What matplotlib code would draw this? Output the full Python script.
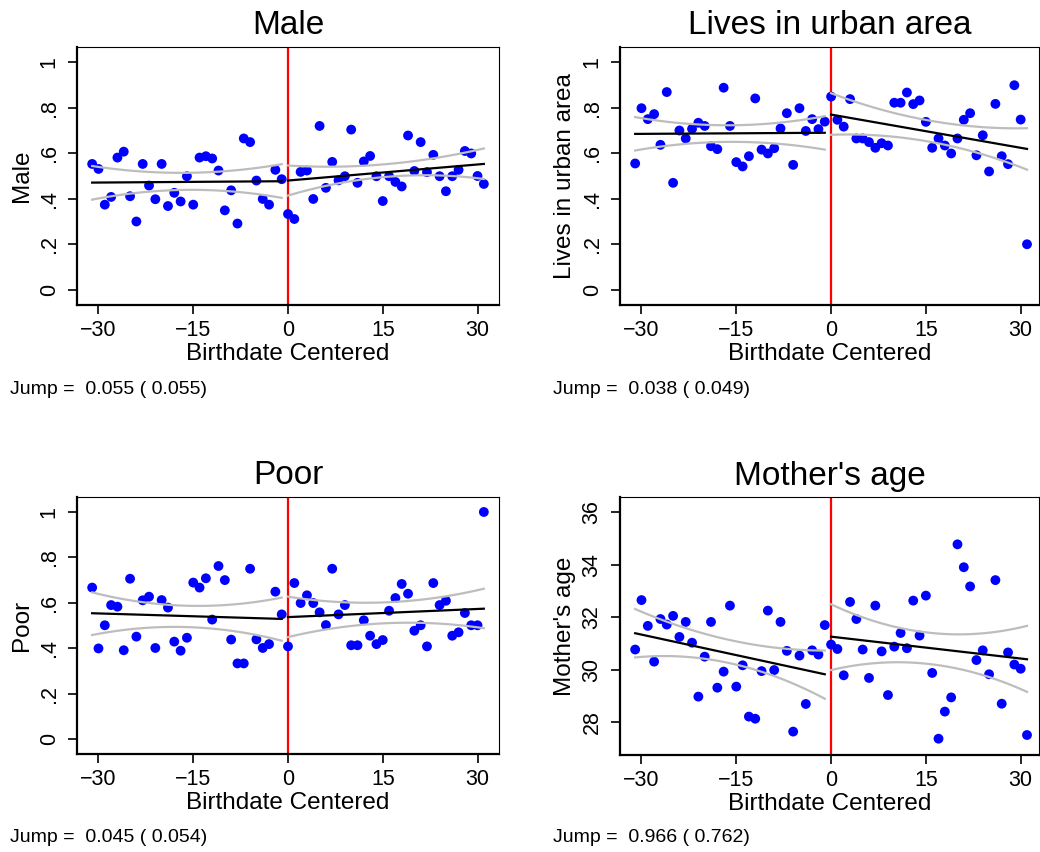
import numpy as np
import matplotlib
matplotlib.use("Agg")
import matplotlib.pyplot as plt

plt.rcParams['font.family'] = ['Liberation Sans', 'DejaVu Sans']

x = np.arange(-31, 32)

# bin means, birthdate -31..31
male = [0.554, 0.532, 0.375, 0.409, 0.582, 0.608, 0.412, 0.301, 0.554, 0.459, 0.399,
        0.554, 0.369, 0.427, 0.389, 0.500, 0.375, 0.582, 0.588, 0.578, 0.525, 0.350,
        0.438, 0.292, 0.666, 0.650, 0.481, 0.400, 0.375, 0.528, 0.487,
        0.334,
        0.312, 0.519, 0.525, 0.400, 0.721, 0.449, 0.563, 0.482, 0.500, 0.705, 0.471,
        0.565, 0.589, 0.500, 0.391, 0.500, 0.475, 0.455, 0.679, 0.523, 0.650, 0.518,
        0.594, 0.500, 0.434, 0.500, 0.528, 0.611, 0.600, 0.501, 0.466]
urban = [0.556, 0.799, 0.751, 0.773, 0.638, 0.870, 0.471, 0.701, 0.666, 0.708, 0.735,
         0.721, 0.632, 0.619, 0.889, 0.721, 0.562, 0.543, 0.588, 0.842, 0.617, 0.600,
         0.623, 0.710, 0.777, 0.550, 0.799, 0.699, 0.751, 0.707, 0.740,
         0.850,
         0.748, 0.718, 0.839, 0.666, 0.666, 0.650, 0.625, 0.645, 0.635, 0.823, 0.823,
         0.868, 0.817, 0.833, 0.739, 0.625, 0.666, 0.635, 0.600, 0.666, 0.748, 0.777,
         0.592, 0.680, 0.521, 0.818, 0.588, 0.553, 0.900, 0.749, 0.201]
poor = [0.667, 0.399, 0.501, 0.590, 0.583, 0.391, 0.706, 0.451, 0.611, 0.627, 0.401,
        0.612, 0.579, 0.429, 0.389, 0.446, 0.689, 0.667, 0.708, 0.526, 0.762, 0.700,
        0.438, 0.333, 0.333, 0.750, 0.439, 0.401, 0.418, 0.649, 0.549,
        0.408,
        0.687, 0.599, 0.633, 0.599, 0.558, 0.502, 0.750, 0.549, 0.590, 0.413, 0.413,
        0.523, 0.455, 0.418, 0.436, 0.565, 0.621, 0.683, 0.640, 0.477, 0.501, 0.408,
        0.687, 0.590, 0.609, 0.455, 0.470, 0.555, 0.501, 0.501, 1.000]
mother_age = [30.77, 32.65, 31.67, 30.31, 31.93, 31.72, 32.05, 31.25, 31.82, 31.03, 28.98,
              30.50, 31.82, 29.32, 29.93, 32.44, 29.36, 30.17, 28.22, 28.14, 29.95, 32.25,
              29.99, 31.82, 30.72, 27.65, 30.54, 28.70, 30.74, 30.58, 31.70,
              30.96,
              30.79, 29.79, 32.58, 31.93, 30.77, 29.69, 32.44, 30.70, 29.04, 30.88, 31.40,
              30.82, 32.63, 31.30, 32.82, 29.88, 27.38, 28.41, 28.95, 34.77, 33.90, 33.17,
              30.37, 30.74, 29.83, 33.41, 28.71, 30.66, 30.20, 30.04, 27.52]

# linear fit ends and CI bounds at start / middle / end of each side
x_left = [-31, -16, -1]
x_right = [0, 15.5, 31]
male_fit = {'left': ([0.472, 0.478], [0.545, 0.515, 0.553], [0.397, 0.440, 0.405]),
            'right': ([0.481, 0.554], [0.547, 0.553, 0.622], [0.415, 0.497, 0.488])}
urban_fit = {'left': ([0.686, 0.691], [0.760, 0.724, 0.764], [0.613, 0.651, 0.617]),
             'right': ([0.771, 0.620], [0.865, 0.745, 0.711], [0.682, 0.652, 0.529])}
poor_fit = {'left': ([0.554, 0.529], [0.646, 0.587, 0.623], [0.458, 0.493, 0.433]),
            'right': ([0.537, 0.574], [0.627, 0.602, 0.662], [0.449, 0.510, 0.488])}
mother_fit = {'left': ([31.39, 29.83], [32.31, 31.13, 30.73], [30.47, 30.25, 28.90]),
              'right': ([31.26, 30.40], [32.49, 31.41, 31.67], [29.99, 30.22, 29.16])}

titles = ['Male', 'Lives in urban area', 'Poor', "Mother's age"]
jumps = ['Jump =  0.055 ( 0.055)', 'Jump =  0.038 ( 0.049)',
         'Jump =  0.045 ( 0.054)', 'Jump =  0.966 ( 0.762)']
x_ticks = [-30, -15, 0, 15, 30]
x_labels = ['\u221230', '\u221215', '0', '15', '30']
share_ticks = [0, 0.2, 0.4, 0.6, 0.8, 1]
share_labels = ['0', '.2', '.4', '.6', '.8', '1']
age_ticks = [28, 30, 32, 34, 36]

W, H = 1040, 852
fig = plt.figure(figsize=(W / 100, H / 100), dpi=100)


def panel(rect, y, fit, title, jump, yticks, ylabels, ylim, xmax, jump_pos):
    l, t, r, b = rect
    ax = fig.add_axes([l / W, 1 - b / H, (r - l) / W, (b - t) / H])
    ax.axvline(0, color='red', lw=1.6, zorder=1)
    ax.scatter(x, y, s=50, color='#0000ff', edgecolors='none', zorder=2)
    for side, xs in (('left', x_left), ('right', x_right)):
        ends, up, lo = fit[side]
        xx = np.linspace(xs[0], xs[-1], 100)
        ax.plot(xx, np.polyval(np.polyfit(xs, up, 2), xx), color='#bdbdbd', lw=1.6, zorder=3)
        ax.plot(xx, np.polyval(np.polyfit(xs, lo, 2), xx), color='#bdbdbd', lw=1.6, zorder=3)
        ax.plot([xs[0], xs[-1]], ends, color='black', lw=1.6, zorder=4)
    ax.set_xlim(-33.4, xmax)
    ax.set_ylim(*ylim)
    ax.set_xticks(x_ticks)
    ax.set_xticklabels(x_labels)
    ax.set_yticks(yticks)
    ax.set_yticklabels(ylabels, rotation=90, va='center')
    ax.tick_params(labelsize=15.5, length=6.5, width=1.2)
    ax.tick_params(axis='x', pad=4)
    ax.tick_params(axis='y', pad=6)
    for s in ('left', 'bottom'):
        ax.spines[s].set_linewidth(1.6)
    for s in ('top', 'right'):
        ax.spines[s].set_linewidth(0.8)
    ax.set_title(title, fontsize=24, pad=9)
    ax.set_xlabel('Birthdate Centered', fontsize=17.5, labelpad=2)
    ax.set_ylabel(title, fontsize=17.5, labelpad=4)
    fig.text(jump_pos[0] / W, 1 - jump_pos[1] / H, jump, fontsize=14, va='baseline')
    return ax


panel((77, 47, 499, 305), male, male_fit, titles[0], jumps[0],
      share_ticks, share_labels, (-0.066, 1.068), 33.4, (10, 394))
panel((620, 47, 1039, 305), urban, urban_fit, titles[1], jumps[1],
      share_ticks, share_labels, (-0.066, 1.068), 32.9, (553, 394))
panel((77, 497, 499, 754), poor, poor_fit, titles[2], jumps[2],
      share_ticks, share_labels, (-0.066, 1.066), 33.4, (10, 842))
panel((620, 497, 1039, 755), mother_age, mother_fit, titles[3], jumps[3],
      age_ticks, [str(v) for v in age_ticks], (26.76, 36.57), 32.9, (553, 842))

fig.savefig('out.png', dpi=100)
